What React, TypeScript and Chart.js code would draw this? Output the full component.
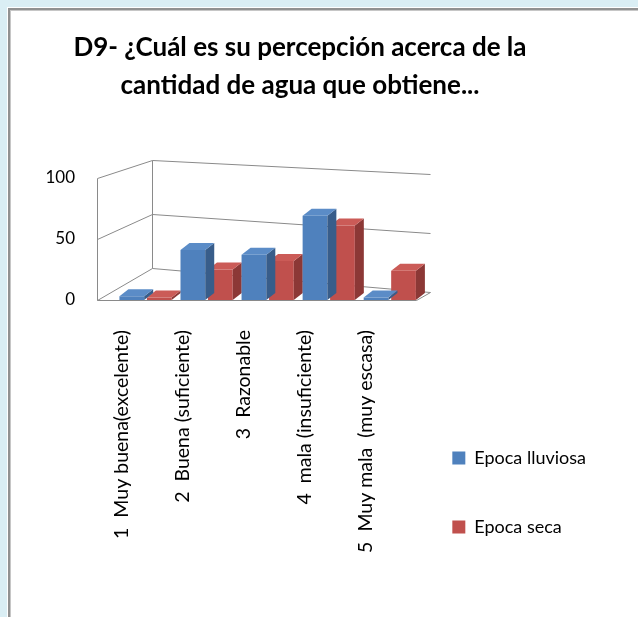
import React, { useEffect, useRef } from "react";
import { Chart, registerables } from "chart.js";

Chart.register(...registerables);

// ---- data ----
const categories = [
  "1  Muy buena(excelente)",
  "2  Buena (suficiente)",
  "3  Razonable",
  "4  mala (insuficiente)",
  "5  Muy mala  (muy escasa)",
];
const seriesNames = ["Epoca lluviosa", "Epoca seca"];
const lluviosa = [3, 41, 37, 69, 2];
const seca = [2, 25, 32, 61, 24];
const yTickValues = [0, 50, 100];
const titleLines = [
  "D9- ¿Cuál es su percepción acerca de la",
  "cantidad de agua que obtiene...",
];

const BLUE = { front: "#4F81BD", top: "#5B8CC7", side: "#385D8A" };
const RED = { front: "#C0504D", top: "#CB5B57", side: "#8C3836" };
const FONT = "Lato, 'Open Sans', sans-serif";

// Pseudo 3-D: walls, floor and bar depth faces, all derived from scales/elements
const depthPlugin = {
  id: "depth3d",
  afterLayout(chart: any) {
    const lg = chart.legend;
    if (lg) {
      lg.left -= 19;
      lg.right -= 19;
    }
    const tb = chart.titleBlock;
    if (tb) {
      tb.left -= 25;
    }
  },
  beforeDatasetsDraw(chart: any) {
    const { ctx, chartArea: a, scales } = chart;
    const y = scales.y;
    const left = Math.round(a.left - 18) + 0.5;
    const right = Math.round(a.right - 4) + 0.5;
    const backX = left + 55;
    const dyL = (v: number) => 32 - 0.14 * v;
    const slope = (v: number) => 24 - 0.1 * v;
    const backRight = right + 14;
    ctx.save();
    ctx.strokeStyle = "#8a8a8a";
    ctx.lineWidth = 1;
    const vals = yTickValues;
    const y0 = Math.round(y.getPixelForValue(vals[0])) + 0.5;
    const yTop = Math.round(y.getPixelForValue(vals[vals.length - 1])) + 0.5;
    // floor
    ctx.beginPath();
    ctx.moveTo(left, y0);
    ctx.lineTo(backX, y0 - dyL(vals[0]));
    ctx.lineTo(backRight, y0 - dyL(vals[0]) + slope(vals[0]));
    ctx.lineTo(right, y0);
    ctx.closePath();
    ctx.fillStyle = "#ffffff";
    ctx.fill();
    ctx.stroke();
    for (const v of vals.slice(1)) {
      const py = Math.round(y.getPixelForValue(v)) + 0.5;
      ctx.beginPath();
      ctx.moveTo(left, py);
      ctx.lineTo(backX, py - dyL(v));
      ctx.lineTo(backRight, py - dyL(v) + slope(v));
      ctx.stroke();
    }
    // left wall verticals
    const vMax = vals[vals.length - 1];
    ctx.beginPath();
    ctx.moveTo(left, yTop);
    ctx.lineTo(left, y0);
    ctx.moveTo(backX, yTop - dyL(vMax));
    ctx.lineTo(backX, y0 - dyL(vals[0]));
    ctx.stroke();
    ctx.restore();
  },
  afterDatasetDraw(chart: any, args: any) {
    const { ctx } = chart;
    const meta = args.meta;
    const pal = meta.index === 0 ? BLUE : RED;
    const dx = 9;
    const dy = 7;
    ctx.save();
    for (const el of meta.data) {
      const p = el.getProps(["x", "y", "base", "width"], true);
      const l = p.x - p.width / 2;
      const r = p.x + p.width / 2;
      const t = Math.min(p.y, p.base);
      const b = Math.max(p.y, p.base);
      ctx.fillStyle = pal.side;
      ctx.beginPath();
      ctx.moveTo(r, t);
      ctx.lineTo(r + dx, t - dy);
      ctx.lineTo(r + dx, b - dy);
      ctx.lineTo(r, b);
      ctx.closePath();
      ctx.fill();
      ctx.fillStyle = pal.top;
      ctx.beginPath();
      ctx.moveTo(l, t);
      ctx.lineTo(l + dx, t - dy);
      ctx.lineTo(r + dx, t - dy);
      ctx.lineTo(r, t);
      ctx.closePath();
      ctx.fill();
    }
    ctx.restore();
  },
};

export default function App() {
  const ref = useRef<HTMLCanvasElement | null>(null);

  useEffect(() => {
    if (!ref.current) return;
    const chart = new Chart(ref.current, {
      type: "bar",
      data: {
        labels: categories,
        datasets: [
          {
            label: seriesNames[0],
            data: lluviosa,
            backgroundColor: BLUE.front,
            borderWidth: 0,
            categoryPercentage: 0.9,
            barPercentage: 0.9,
          },
          {
            label: seriesNames[1],
            data: seca,
            backgroundColor: RED.front,
            borderWidth: 0,
            categoryPercentage: 0.9,
            barPercentage: 0.9,
          },
        ],
      },
      options: {
        responsive: false,
        animation: false,
        devicePixelRatio: 1,
        layout: { padding: 0 },
        plugins: {
          tooltip: { enabled: false },
          title: {
            display: true,
            text: titleLines,
            color: "#000",
            font: { family: FONT, size: 26, weight: "bold", lineHeight: 1.46 },
            padding: { top: 19, bottom: 73 },
          },
          legend: {
            display: true,
            position: "right",
            align: "end",
            maxWidth: 240,
            labels: {
              boxWidth: 13,
              boxHeight: 13,
              padding: 51,
              color: "#000",
              font: { family: FONT, size: 18 },
            },
          },
        },
        scales: {
          x: {
            grid: { display: false, drawTicks: false },
            border: { display: false },
            afterFit: (s: any) => {
              s.height = 287;
            },
            ticks: {
              autoSkip: false,
              minRotation: 90,
              maxRotation: 90,
              padding: 30,
              labelOffset: -24,
              color: "#000",
              font: { family: FONT, size: 19.5 },
            },
          },
          y: {
            min: 0,
            max: 100,
            grid: { display: false, drawTicks: false },
            border: { display: false },
            afterFit: (s: any) => {
              s.width = 105;
            },
            afterBuildTicks: (s: any) => {
              s.ticks = yTickValues.map((v) => ({ value: v }));
            },
            ticks: {
              padding: 40,
              color: "#000",
              font: { family: FONT, size: 17 },
            },
          },
        },
      },
      plugins: [depthPlugin],
    });
    return () => chart.destroy();
  }, []);

  return (
    <div
      style={{
        position: "fixed",
        left: 0,
        top: 0,
        width: 638,
        height: 617,
        background: "#DAEEF4",
        overflow: "hidden",
      }}
    >
      <div
        style={{
          position: "absolute",
          left: 7,
          top: 7,
          right: 0,
          bottom: 0,
          background: "#ffffff",
        }}
      />
      <div
        style={{
          position: "absolute",
          left: 8,
          top: 8,
          right: 0,
          bottom: 0,
          borderLeft: "2px solid #919191",
          borderTop: "2px solid #919191",
          boxShadow: "inset 1px 1px 0 #c6c6c6",
        }}
      />
      <canvas
        ref={ref}
        width={605}
        height={577}
        style={{ position: "absolute", left: 10, top: 10 }}
      />
    </div>
  );
}
